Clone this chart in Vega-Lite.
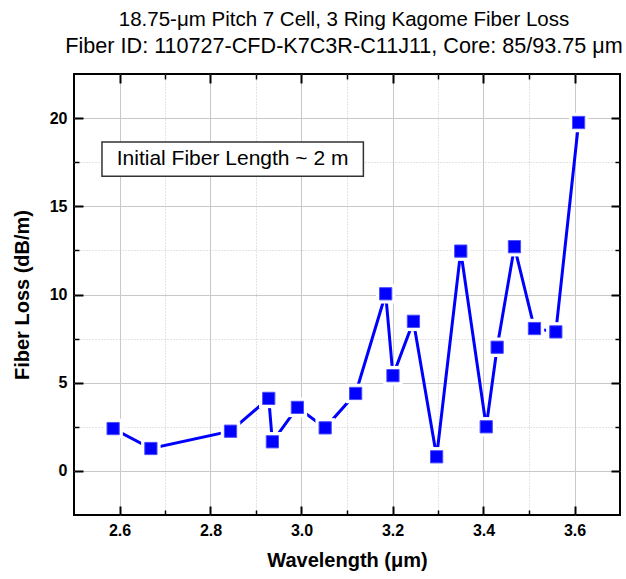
{
  "$schema": "https://vega.github.io/schema/vega-lite/v6.json",
  "padding": {"left": 11, "top": 8, "right": 0, "bottom": 0},
  "background": "white",
  "config": {"font": "Liberation Sans", "view": {"stroke": "black", "strokeWidth": 2}},
  "datasets": {
    "loss": [
      {"wavelength": 2.586, "loss": 2.40},
      {"wavelength": 2.669, "loss": 1.27},
      {"wavelength": 2.844, "loss": 2.25},
      {"wavelength": 2.928, "loss": 4.11},
      {"wavelength": 2.936, "loss": 1.65},
      {"wavelength": 2.991, "loss": 3.60},
      {"wavelength": 3.052, "loss": 2.44},
      {"wavelength": 3.119, "loss": 4.39},
      {"wavelength": 3.185, "loss": 10.04},
      {"wavelength": 3.201, "loss": 5.40},
      {"wavelength": 3.246, "loss": 8.48},
      {"wavelength": 3.297, "loss": 0.80},
      {"wavelength": 3.350, "loss": 12.46},
      {"wavelength": 3.406, "loss": 2.50},
      {"wavelength": 3.430, "loss": 7.01},
      {"wavelength": 3.468, "loss": 12.71},
      {"wavelength": 3.512, "loss": 8.07},
      {"wavelength": 3.559, "loss": 7.88},
      {"wavelength": 3.609, "loss": 19.75}
    ],
    "note": [
      {"x1": 2.5615, "x2": 3.136, "y1": 18.65, "y2": 16.71, "xc": 2.8486, "yc": 17.68, "label": "Initial Fiber Length ~ 2 m"}
    ]
  },
  "vconcat": [
    {
      "width": 546,
      "height": 441,
      "title": {
        "text": "18.75-μm Pitch 7 Cell, 3 Ring Kagome Fiber Loss",
        "subtitle": "Fiber ID: 110727-CFD-K7C3R-C11J11, Core: 85/93.75 μm",
        "fontSize": 20.5, "fontWeight": "normal", "font": "Liberation Sans", "color": "black",
        "subtitleFontSize": 21.6, "subtitleFont": "Liberation Sans", "subtitleColor": "black", "subtitlePadding": 6,
        "anchor": "middle", "frame": "group", "offset": 15, "dx": -3
      },
      "layer": [
        {
          "data": {"name": "loss"},
          "mark": {"type": "line", "color": "#0000ff", "strokeWidth": 3},
          "encoding": {
            "x": {
              "field": "wavelength", "type": "quantitative",
              "scale": {"domain": [2.5, 3.7], "nice": false, "zero": false},
              "axis": {
                "orient": "bottom",
                "values": [2.6, 2.8, 3.0, 3.2, 3.4, 3.6],
                "format": ".1f",
                "title": "Wavelength (μm)", "titleFontSize": 20, "titleFontWeight": "bold", "titleColor": "black", "titlePadding": 12,
                "labelFontSize": 16, "labelFontWeight": "bold", "labelColor": "black",
                "labelOverlap": false, "labelFlush": false, "labelPadding": 16,
                "domain": false, "grid": false,
                "ticks": true, "tickColor": "black", "tickWidth": 2, "tickSize": -9
              }
            },
            "y": {
              "field": "loss", "type": "quantitative",
              "scale": {"domain": [-2.5, 22.5], "nice": false, "zero": false},
              "axis": {
                "orient": "left",
                "values": [0, 5, 10, 15, 20],
                "title": "Fiber Loss (dB/m)", "titleFontSize": 20, "titleFontWeight": "bold", "titleColor": "black", "titlePadding": 17,
                "labelFontSize": 16, "labelFontWeight": "bold", "labelColor": "black",
                "labelOverlap": false, "labelFlush": false, "labelPadding": 16,
                "domain": false, "grid": false,
                "ticks": true, "tickColor": "black", "tickWidth": 2, "tickSize": -9
              }
            }
          }
        },
        {
          "data": {"name": "loss"},
          "mark": {"type": "square", "color": "white", "size": 380, "opacity": 1},
          "encoding": {
            "x": {
              "field": "wavelength", "type": "quantitative",
              "scale": {"domain": [2.5, 3.7], "nice": false, "zero": false},
              "axis": {
                "orient": "bottom", "title": null, "labels": false, "domain": false, "grid": false,
                "values": [2.7, 2.9, 3.1, 3.3, 3.5],
                "ticks": true, "tickColor": "black", "tickWidth": 1.5, "tickSize": -5
              }
            },
            "y": {
              "field": "loss", "type": "quantitative",
              "scale": {"domain": [-2.5, 22.5], "nice": false, "zero": false},
              "axis": {
                "orient": "left", "title": null, "labels": false, "domain": false, "grid": false,
                "values": [2.5, 7.5, 12.5, 17.5],
                "ticks": true, "tickColor": "black", "tickWidth": 1.5, "tickSize": -5
              }
            }
          }
        },
        {
          "data": {"name": "loss"},
          "mark": {"type": "square", "fill": "#0000ff", "stroke": "#4d4dff", "strokeWidth": 1, "size": 150, "opacity": 1},
          "encoding": {
            "x": {
              "field": "wavelength", "type": "quantitative",
              "scale": {"domain": [2.5, 3.7], "nice": false, "zero": false},
              "axis": {
                "orient": "top", "title": null, "labels": false, "domain": false, "grid": false,
                "values": [2.6, 2.8, 3.0, 3.2, 3.4, 3.6],
                "ticks": true, "tickColor": "black", "tickWidth": 2, "tickSize": -9
              }
            },
            "y": {
              "field": "loss", "type": "quantitative",
              "scale": {"domain": [-2.5, 22.5], "nice": false, "zero": false},
              "axis": {
                "orient": "right", "title": null, "labels": false, "domain": false, "grid": false,
                "values": [0, 5, 10, 15, 20],
                "ticks": true, "tickColor": "black", "tickWidth": 2, "tickSize": -9
              }
            }
          }
        },
        {
          "data": {"name": "note"},
          "mark": {"type": "rect", "fill": "white", "stroke": "#333333", "strokeWidth": 1.5},
          "encoding": {
            "x": {
              "field": "x1", "type": "quantitative",
              "scale": {"domain": [2.5, 3.7], "nice": false, "zero": false},
              "axis": {
                "orient": "top", "title": null, "labels": false, "domain": false, "grid": false,
                "values": [2.7, 2.9, 3.1, 3.3, 3.5],
                "ticks": true, "tickColor": "black", "tickWidth": 1.5, "tickSize": -5
              }
            },
            "x2": {"field": "x2"},
            "y": {
              "field": "y1", "type": "quantitative",
              "scale": {"domain": [-2.5, 22.5], "nice": false, "zero": false},
              "axis": {
                "orient": "right", "title": null, "labels": false, "domain": false, "grid": false,
                "values": [2.5, 7.5, 12.5, 17.5],
                "ticks": true, "tickColor": "black", "tickWidth": 1.5, "tickSize": -5
              }
            },
            "y2": {"field": "y2"}
          }
        },
        {
          "data": {"name": "note"},
          "mark": {"type": "text", "fontSize": 21, "color": "black", "align": "center", "baseline": "middle", "font": "Liberation Sans"},
          "encoding": {
            "x": {
              "field": "xc", "type": "quantitative",
              "scale": {"domain": [2.5, 3.7], "nice": false, "zero": false},
              "axis": {
                "orient": "bottom", "title": null, "labels": false, "domain": false, "ticks": false,
                "values": [2.6, 2.7, 2.8, 2.9, 3.0, 3.1, 3.2, 3.3, 3.4, 3.5, 3.6],
                "grid": true, "gridColor": "#c8c8c8", "gridWidth": 1,
                "gridDash": {"condition": {"test": "abs(datum.value*5 - round(datum.value*5)) < 0.01", "value": []}, "value": [1, 2]}
              }
            },
            "y": {
              "field": "yc", "type": "quantitative",
              "scale": {"domain": [-2.5, 22.5], "nice": false, "zero": false},
              "axis": {
                "orient": "left", "title": null, "labels": false, "domain": false, "ticks": false,
                "values": [0, 2.5, 5, 7.5, 10, 12.5, 15, 17.5, 20],
                "grid": true, "gridColor": "#c8c8c8", "gridWidth": 1,
                "gridDash": {"condition": {"test": "datum.value % 5 === 0", "value": []}, "value": [1, 2]}
              }
            },
            "text": {"field": "label"}
          }
        }
      ],
      "resolve": {"axis": {"x": "independent", "y": "independent"}}
    }
  ]
}
